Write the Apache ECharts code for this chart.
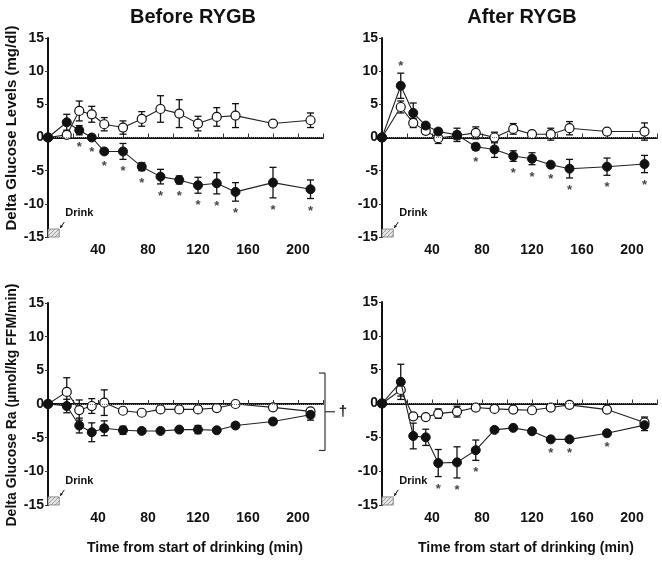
<!DOCTYPE html>
<html>
<head>
<meta charset="utf-8">
<script src="https://cdn.jsdelivr.net/npm/echarts@6/dist/echarts.min.js"></script>
<style>html,body{margin:0;padding:0;background:#fff;}#c{width:662px;height:562px;}</style>
</head>
<body>
<div id="c"></div>
<script>
// ---- data ----
const times = [0, 15, 25, 35, 45, 60, 75, 90, 105, 120, 135, 150, 180, 210];

// Before RYGB - Delta glucose levels (mg/dl)
const openBeforeGlu     = [0, 0.4, 4.0, 3.5, 2.0, 1.5, 2.8, 4.3, 3.6, 2.1, 3.1, 3.3, 2.1, 2.6];
const openBeforeGluErr  = [0, 0.5, 1.5, 1.2, 1.0, 1.0, 1.1, 2.0, 2.1, 1.1, 1.4, 1.8, 0.3, 1.1];
const fillBeforeGlu     = [0, 2.3, 1.1, 0.0, -2.1, -2.1, -4.4, -5.9, -6.4, -7.2, -6.9, -8.2, -6.8, -7.8];
const fillBeforeGluErr  = [0, 1.2, 0.7, 0.3, 0.4, 1.2, 0.6, 1.1, 0.6, 1.2, 1.6, 1.4, 2.3, 1.4];
const sigBeforeGlu      = [25, 35, 45, 60, 75, 90, 105, 120, 135, 150, 180, 210];

// After RYGB - Delta glucose levels (mg/dl)
const openAfterGlu      = [0, 4.6, 2.2, 1.0, -0.1, 0.3, 0.7, 0.0, 1.3, 0.5, 0.5, 1.4, 0.9, 0.9];
const openAfterGluErr   = [0, 0.9, 0.7, 0.5, 0.8, 0.6, 0.9, 0.8, 0.8, 0.3, 0.9, 1.0, 0.2, 1.3];
const fillAfterGlu      = [0, 7.8, 3.7, 1.8, 0.9, 0.4, -1.4, -1.8, -2.8, -3.2, -4.1, -4.7, -4.4, -4.0];
const fillAfterGluErr   = [0, 1.9, 1.5, 0.4, 0.4, 1.0, 0.5, 1.2, 0.8, 0.9, 0.3, 1.4, 1.3, 1.3];
const sigAfterGlu       = [15, 75, 105, 120, 135, 150, 180, 210];

// Before RYGB - Delta glucose Ra (umol/kg FFM/min)
const openBeforeRa      = [0, 1.8, -0.9, -0.3, 0.2, -1.0, -1.3, -0.8, -0.8, -0.8, -0.6, 0.0, -0.5, -1.1];
const openBeforeRaErr   = [0, 2.1, 1.5, 1.1, 1.9, 0.4, 0.3, 0.4, 0.3, 0.4, 0.3, 0.3, 0.3, 0.4];
const fillBeforeRa      = [0, -0.3, -3.2, -4.2, -3.6, -3.9, -4.0, -4.0, -3.8, -3.8, -3.9, -3.2, -2.6, -1.6];
const fillBeforeRaErr   = [0, 1.0, 1.1, 1.4, 1.1, 0.6, 0.3, 0.3, 0.3, 0.6, 0.3, 0.3, 0.3, 0.8];
const sigBeforeRa       = [];
const bracketBeforeRa   = [4.6, -6.9];   // extent of the dagger bracket

// After RYGB - Delta glucose Ra (umol/kg FFM/min)
const openAfterRa       = [0, 2.0, -1.9, -2.0, -1.5, -1.2, -0.6, -0.8, -0.9, -1.0, -0.6, -0.2, -0.9, -2.8];
const openAfterRaErr    = [0, 0.9, 0.4, 0.3, 0.7, 0.8, 0.3, 0.3, 0.3, 0.3, 0.3, 0.2, 0.3, 0.8];
const fillAfterRa       = [0, 3.2, -4.8, -5.0, -8.8, -8.7, -6.9, -3.9, -3.6, -4.1, -5.3, -5.3, -4.4, -3.2];
const fillAfterRaErr    = [0, 2.6, 1.9, 1.2, 2.0, 2.3, 1.5, 0.3, 0.3, 0.3, 0.3, 0.3, 0.3, 0.8];
const sigAfterRa        = [45, 60, 75, 135, 150, 180];

const xTicks = [40, 80, 120, 160, 200];
const yTicks = [-15, -10, -5, 0, 5, 10, 15];
const drinkEnd = 9;      // minutes of drinking
const drinkLabel = 'Drink';

const panels = [
  {open: openBeforeGlu, openErr: openBeforeGluErr, fill: fillBeforeGlu, fillErr: fillBeforeGluErr, sig: sigBeforeGlu},
  {open: openAfterGlu,  openErr: openAfterGluErr,  fill: fillAfterGlu,  fillErr: fillAfterGluErr,  sig: sigAfterGlu},
  {open: openBeforeRa,  openErr: openBeforeRaErr,  fill: fillBeforeRa,  fillErr: fillBeforeRaErr,  sig: sigBeforeRa, bracket: bracketBeforeRa},
  {open: openAfterRa,   openErr: openAfterRaErr,   fill: fillAfterRa,   fillErr: fillAfterRaErr,   sig: sigAfterRa}
];

// ---- layout / style ----
const FONT = '"Liberation Sans", Arial, Helvetica, sans-serif';
const INK = '#111';
const grids = [
  {left: 48,  top: 38,  width: 275, height: 199},
  {left: 382, top: 38,  width: 275, height: 199},
  {left: 48,  top: 303, width: 275, height: 202},
  {left: 382, top: 302, width: 275, height: 203}
];

// hatch pattern
const pat = document.createElement('canvas');
pat.width = 4; pat.height = 4;
const pc = pat.getContext('2d');
pc.fillStyle = '#e6e6e6'; pc.fillRect(0, 0, 4, 4);
pc.strokeStyle = '#8a8a8a'; pc.lineWidth = 0.8;
pc.beginPath(); pc.moveTo(0, 4); pc.lineTo(4, 0); pc.stroke();
pc.beginPath(); pc.moveTo(-1, 1); pc.lineTo(1, -1); pc.stroke();
pc.beginPath(); pc.moveTo(3, 5); pc.lineTo(5, 3); pc.stroke();

function errItem(params, api) {
  const x = api.value(0), lo = api.value(1), hi = api.value(2);
  const a = api.coord([x, lo]), b = api.coord([x, hi]);
  const w = 3.5;
  const st = {stroke: INK, lineWidth: 1.3};
  return {type: 'group', children: [
    {type: 'line', shape: {x1: a[0], y1: a[1], x2: b[0], y2: b[1]}, style: st},
    {type: 'line', shape: {x1: a[0] - w, y1: a[1], x2: a[0] + w, y2: a[1]}, style: st},
    {type: 'line', shape: {x1: b[0] - w, y1: b[1], x2: b[0] + w, y2: b[1]}, style: st}
  ]};
}

function drinkItem(params, api) {
  const p0 = api.coord([api.value(0), api.value(1)]);
  const p1 = api.coord([api.value(2), api.value(3)]);
  const x = p0[0], y = p1[1], w = p1[0] - p0[0], h = p0[1] - p1[1];
  const ax1 = x + w + 5, ay1 = y - 7, ax2 = x + w + 1, ay2 = y - 1;
  return {type: 'group', children: [
    {type: 'rect', shape: {x: x, y: y, width: w, height: h},
     style: {fill: {image: pat, repeat: 'repeat'}, stroke: '#777', lineWidth: 0.8}},
    {type: 'line', shape: {x1: ax1, y1: ay1, x2: ax2, y2: ay2}, style: {stroke: INK, lineWidth: 1}},
    {type: 'polygon', shape: {points: [[ax2, ay2], [ax2 + 0.2, ay2 - 3.2], [ax2 + 2.6, ay2 - 1.6]]}, style: {fill: INK}},
    {type: 'text', x: x + w + 6, y: y - 16,
     style: {text: drinkLabel, font: 'bold 11px ' + FONT, fill: INK, textAlign: 'left', textVerticalAlign: 'middle'}}
  ]};
}

function bracketItem(params, api) {
  const t = api.coord([api.value(0), api.value(1)]);
  const b = api.coord([api.value(0), api.value(2)]);
  const x = t[0] + 2, ym = (t[1] + b[1]) / 2;
  const st = {stroke: '#333', lineWidth: 1.2};
  return {type: 'group', children: [
    {type: 'line', shape: {x1: x, y1: t[1], x2: x, y2: b[1]}, style: st},
    {type: 'line', shape: {x1: x - 6, y1: t[1], x2: x, y2: t[1]}, style: st},
    {type: 'line', shape: {x1: x - 6, y1: b[1], x2: x, y2: b[1]}, style: st},
    {type: 'line', shape: {x1: x, y1: ym, x2: x + 10, y2: ym}, style: st},
    {type: 'text', x: x + 18, y: ym,
     style: {text: '\u2020', font: 'bold 15px ' + FONT, fill: INK, textAlign: 'center', textVerticalAlign: 'middle'}}
  ]};
}

const xAxes = [], yAxes = [], series = [];
panels.forEach((p, i) => {
  xAxes.push({
    gridIndex: i, type: 'value', min: 0, max: 220, interval: 20,
    axisLine: {lineStyle: {color: INK, width: 2}},
    axisTick: {inside: true, length: 4, lineStyle: {color: '#333', width: 1}},
    axisLabel: {color: INK, fontFamily: FONT, fontWeight: 'bold', fontSize: 14, margin: 6,
      formatter: v => xTicks.indexOf(v) >= 0 ? String(v) : ''},
    splitLine: {show: false}
  });
  yAxes.push({
    gridIndex: i, type: 'value', min: yTicks[0], max: yTicks[yTicks.length - 1], interval: 5,
    axisLine: {lineStyle: {color: INK, width: 2}},
    axisTick: {length: 3, lineStyle: {color: '#333', width: 1}},
    axisLabel: {color: INK, fontFamily: FONT, fontWeight: 'bold', fontSize: 14, margin: 4},
    splitLine: {show: false}
  });

  const errData = [];
  times.forEach((t, k) => {
    if (p.openErr[k] > 0) errData.push([t, p.open[k] - p.openErr[k], p.open[k] + p.openErr[k]]);
    if (p.fillErr[k] > 0) errData.push([t, p.fill[k] - p.fillErr[k], p.fill[k] + p.fillErr[k]]);
  });
  series.push({
    type: 'custom', xAxisIndex: i, yAxisIndex: i, renderItem: errItem, data: errData,
    encode: {x: 0, y: [1, 2]}, z: 2, silent: true
  });
  series.push({
    type: 'line', xAxisIndex: i, yAxisIndex: i, data: times.map((t, k) => [t, p.open[k]]),
    symbol: 'circle', symbolSize: 9, z: 4,
    itemStyle: {color: '#fff', borderColor: INK, borderWidth: 1.2},
    lineStyle: {color: '#222', width: 1.1},
    markLine: {silent: true, symbol: ['none', 'none'], label: {show: false},
      lineStyle: {type: 'dotted', color: '#777', width: 1}, data: [{yAxis: 0}]}
  });
  series.push({
    type: 'line', xAxisIndex: i, yAxisIndex: i, data: times.map((t, k) => [t, p.fill[k]]),
    symbol: 'circle', symbolSize: 9, z: 5,
    itemStyle: {color: INK, borderColor: INK, borderWidth: 1},
    lineStyle: {color: '#222', width: 1.1}
  });
  const above = [], below = [];
  p.sig.forEach(t => {
    const k = times.indexOf(t);
    if (p.fill[k] > 5) above.push([t, p.fill[k] + p.fillErr[k]]);
    else below.push([t, p.fill[k] - p.fillErr[k]]);
  });
  const starLabel = {show: true, formatter: '*', color: INK, fontFamily: FONT, fontWeight: 'bold', fontSize: 13};
  series.push({type: 'scatter', xAxisIndex: i, yAxisIndex: i, data: below, symbolSize: 0, silent: true,
    label: Object.assign({position: 'bottom', distance: 6}, starLabel), z: 6});
  series.push({type: 'scatter', xAxisIndex: i, yAxisIndex: i, data: above, symbolSize: 0, silent: true,
    label: Object.assign({position: 'top', distance: 0}, starLabel), z: 6});
  series.push({
    type: 'custom', xAxisIndex: i, yAxisIndex: i, renderItem: drinkItem, clip: false, silent: true,
    data: [[0, yTicks[0], drinkEnd, yTicks[0] + 1.2]], encode: {x: [0, 2], y: [1, 3]}, z: 3
  });
  if (p.bracket) {
    series.push({
      type: 'custom', xAxisIndex: i, yAxisIndex: i, renderItem: bracketItem, clip: false, silent: true,
      data: [[220, p.bracket[0], p.bracket[1]]], encode: {x: 0, y: [1, 2]}, z: 3
    });
  }
});

const txt = (x, y, text, size, rot) => ({
  type: 'text', x: x, y: y, rotation: rot || 0, silent: true,
  style: {text: text, font: 'bold ' + size + 'px ' + FONT, fill: INK, textAlign: 'center', textVerticalAlign: 'middle'}
});

const chart = echarts.init(document.getElementById('c'), null, {renderer: 'canvas'});
chart.setOption({
  animation: false,
  backgroundColor: '#fff',
  grid: grids,
  xAxis: xAxes,
  yAxis: yAxes,
  series: series,
  graphic: [
    txt(193, 17, 'Before RYGB', 20),
    txt(522, 17, 'After RYGB', 20),
    txt(12, 128, 'Delta Glucose Levels (mg/dl)', 15, Math.PI / 2),
    txt(12, 405, 'Delta Glucose Ra (\u00b5mol/kg FFM/min)', 14, Math.PI / 2),
    txt(195, 548, 'Time from start of drinking (min)', 14),
    txt(526, 548, 'Time from start of drinking (min)', 14)
  ]
});
</script>
</body>
</html>
